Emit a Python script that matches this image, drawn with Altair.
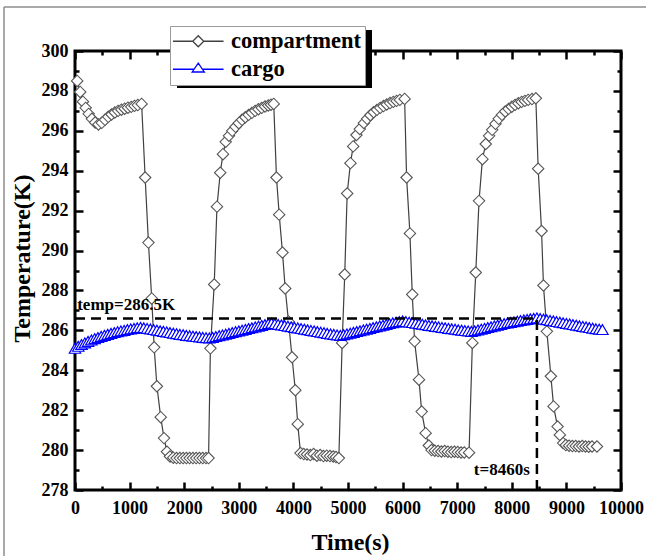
import altair as alt
import pandas as pd

# ---------------- data ----------------
compartment_time = [
    40, 95, 145, 195, 250, 310, 370, 430, 490, 550, 610, 670, 730, 790, 850, 910, 970, 1030, 1090, 1150, 1220,
    1285, 1345, 1405, 1450, 1500, 1570, 1630, 1685, 1740, 1800, 1860, 1920, 1980, 2040, 2100, 2160, 2220, 2280, 2340, 2400, 2446,
    2480, 2550, 2600, 2660, 2710, 2760, 2820, 2880, 2940, 3000, 3060, 3120, 3180, 3240, 3300, 3360, 3420, 3480, 3540, 3590, 3640,
    3690, 3740, 3800, 3850, 3910, 3975, 4035, 4080, 4130, 4190, 4250, 4310, 4370, 4430, 4490, 4550, 4610, 4670, 4730, 4780, 4832,
    4893, 4940, 4985, 5045, 5095, 5155, 5215, 5290, 5350, 5410, 5470, 5530, 5590, 5650, 5710, 5770, 5830, 5890, 5950, 6037,
    6073, 6134, 6177, 6220, 6300, 6349, 6422, 6480, 6530, 6590, 6650, 6710, 6770, 6830, 6890, 6950, 7010, 7070, 7130, 7217,
    7278, 7340, 7400, 7462, 7523, 7584, 7640, 7700, 7760, 7820, 7880, 7940, 8000, 8060, 8120, 8180, 8240, 8300, 8370, 8440,
    8483, 8545, 8580, 8642, 8716, 8765, 8838, 8880, 8940, 8990, 9050, 9110, 9170, 9230, 9290, 9350, 9410, 9470, 9560,
]
compartment_temp = [
    298.5, 297.95, 297.46, 297.15, 296.85, 296.6, 296.42, 296.32, 296.4, 296.55, 296.7, 296.82, 296.92, 297.0, 297.06, 297.11, 297.16, 297.2, 297.25, 297.29, 297.35,
    293.66, 290.4, 287.6, 285.15, 283.2, 281.65, 280.6, 279.92, 279.68, 279.62, 279.6, 279.6, 279.6, 279.6, 279.6, 279.6, 279.6, 279.6, 279.6, 279.6, 279.6,
    285.1, 288.3, 292.2, 293.9, 294.83, 295.45, 295.75, 296.0, 296.2, 296.38, 296.55, 296.68, 296.8, 296.9, 297.0, 297.08, 297.15, 297.22, 297.27, 297.31, 297.35,
    293.66, 291.8, 289.9, 288.1, 286.45, 284.65, 283.0, 281.3, 279.85, 279.8, 279.78, 279.75, 279.8, 279.72, 279.75, 279.7, 279.72, 279.7, 279.68, 279.65, 279.6,
    285.37, 288.8, 292.86, 294.38, 295.22, 295.79, 296.09, 296.39, 296.6, 296.78, 296.93, 297.05, 297.15, 297.24, 297.32, 297.39, 297.45, 297.5, 297.55, 297.6,
    293.66, 290.86, 287.8, 285.45, 283.53, 281.93, 280.85, 280.23, 280.0, 279.97, 279.95, 279.93, 279.95, 279.92, 279.9, 279.92, 279.9, 279.88, 279.88, 279.87,
    285.37, 288.9, 292.49, 294.58, 295.34, 295.75, 296.05, 296.35, 296.6, 296.8, 296.97, 297.1, 297.21, 297.3, 297.38, 297.45, 297.5, 297.55, 297.59, 297.63,
    294.1, 290.98, 288.25, 285.95, 283.7, 282.19, 281.18, 280.76, 280.35, 280.25, 280.22, 280.2, 280.2, 280.18, 280.2, 280.18, 280.17, 280.18, 280.18,
]

cargo_time = [
    0, 60, 120, 180, 240, 300, 360, 420, 480, 540, 600, 660, 720, 780, 840, 900, 960, 1020, 1080, 1140, 1200,
    1260, 1320, 1380, 1440, 1500, 1560, 1620, 1680, 1740, 1800, 1860, 1920, 1980, 2040, 2100, 2160, 2220, 2280, 2340, 2400, 2460,
    2520, 2580, 2640, 2700, 2760, 2820, 2880, 2940, 3000, 3060, 3120, 3180, 3240, 3300, 3360, 3420, 3480, 3540, 3600,
    3660, 3720, 3780, 3840, 3900, 3960, 4020, 4080, 4140, 4200, 4260, 4320, 4380, 4440, 4500, 4560, 4620, 4680, 4740, 4800, 4860,
    4920, 4980, 5040, 5100, 5160, 5220, 5280, 5340, 5400, 5460, 5520, 5580, 5640, 5700, 5760, 5820, 5880, 5940, 6000,
    6060, 6120, 6180, 6240, 6300, 6360, 6420, 6480, 6540, 6600, 6660, 6720, 6780, 6840, 6900, 6960, 7020, 7080, 7140, 7200, 7260,
    7320, 7380, 7440, 7500, 7560, 7620, 7680, 7740, 7800, 7860, 7920, 7980, 8040, 8100, 8160, 8220, 8280, 8340, 8400, 8460,
    8520, 8580, 8640, 8700, 8760, 8820, 8880, 8940, 9000, 9060, 9120, 9180, 9240, 9300, 9360, 9420, 9480, 9540, 9600, 9660,
]
cargo_temp = [
    285.10, 285.20, 285.29, 285.37, 285.45, 285.52, 285.58, 285.64, 285.70, 285.75, 285.80, 285.85, 285.89, 285.93, 285.97, 286.00, 286.04, 286.07, 286.10, 286.13, 286.15,
    286.13, 286.10, 286.07, 286.04, 286.01, 285.98, 285.95, 285.92, 285.89, 285.86, 285.83, 285.80, 285.78, 285.75, 285.73, 285.71, 285.69, 285.67, 285.65, 285.63, 285.62,
    285.65, 285.69, 285.73, 285.77, 285.81, 285.85, 285.89, 285.93, 285.97, 286.01, 286.05, 286.09, 286.13, 286.17, 286.21, 286.25, 286.29, 286.33, 286.36,
    286.33, 286.30, 286.27, 286.24, 286.21, 286.18, 286.15, 286.12, 286.09, 286.06, 286.03, 286.00, 285.97, 285.94, 285.91, 285.88, 285.85, 285.82, 285.80, 285.77, 285.75,
    285.78, 285.82, 285.86, 285.90, 285.94, 285.98, 286.02, 286.06, 286.10, 286.14, 286.18, 286.22, 286.26, 286.30, 286.34, 286.38, 286.41, 286.44, 286.47,
    286.44, 286.41, 286.39, 286.36, 286.33, 286.31, 286.28, 286.25, 286.23, 286.20, 286.18, 286.15, 286.13, 286.10, 286.08, 286.06, 286.03, 286.01, 285.99, 285.97, 285.95,
    285.98, 286.02, 286.06, 286.10, 286.14, 286.18, 286.22, 286.26, 286.30, 286.34, 286.37, 286.40, 286.43, 286.46, 286.49, 286.52, 286.55, 286.58, 286.60, 286.62,
    286.59, 286.56, 286.53, 286.50, 286.47, 286.44, 286.41, 286.38, 286.35, 286.32, 286.29, 286.26, 286.23, 286.20, 286.17, 286.14, 286.11, 286.08, 286.06, 286.04,
]

series_names = ["compartment", "cargo"]
x_tick_values = [0, 500, 1000, 1500, 2000, 2500, 3000, 3500, 4000, 4500, 5000, 5500, 6000,
                 6500, 7000, 7500, 8000, 8500, 9000, 9500, 10000]
x_label_values = [0, 1000, 2000, 3000, 4000, 5000, 6000, 7000, 8000, 9000, 10000]
y_tick_values = [278, 279, 280, 281, 282, 283, 284, 285, 286, 287, 288, 289, 290,
                 291, 292, 293, 294, 295, 296, 297, 298, 299, 300]
y_label_values = [278, 280, 282, 284, 286, 288, 290, 292, 294, 296, 298, 300]

threshold_time = 8460
threshold_temp = 286.6
annotation_text = ["temp=286.5K", "t=8460s"]
annotation_time = [40, 8330]
annotation_temp = [287.25, 279.0]

# ---------------- chart ----------------
W, H = 546, 439
FONT = "Liberation Serif"
COMP_COLOR = "#404040"
CARGO_COLOR = "#0000ff"

comp_df = pd.DataFrame({"t": compartment_time, "T": compartment_temp})
cargo_df = pd.DataFrame({"t": cargo_time, "T": cargo_temp})
legend_df = pd.DataFrame({"series": series_names, "t": [-2000, -2000], "T": [290, 290]})
hline_df = pd.DataFrame({"t": [0], "t2": [threshold_time], "T": [threshold_temp]})
vline_df = pd.DataFrame({"t": [threshold_time], "T": [278], "T2": [threshold_temp]})
ann_left = pd.DataFrame({"t": [annotation_time[0]], "T": [annotation_temp[0]], "label": [annotation_text[0]]})
ann_right = pd.DataFrame({"t": [annotation_time[1]], "T": [annotation_temp[1]], "label": [annotation_text[1]]})
one_row = pd.DataFrame({"k": [0]})

xscale = alt.Scale(domain=[0, 10000], nice=False, zero=False)
yscale = alt.Scale(domain=[278, 300], nice=False, zero=False)

lab = dict(labelFont=FONT, labelFontSize=18, labelFontWeight="bold", labelColor="black",
           titleFont=FONT, titleFontSize=24, titleFontWeight="bold", titleColor="black")

x_lab_axis = alt.Axis(orient="bottom", values=x_label_values, format="d", ticks=False, domain=False,
                      grid=False, labelPadding=9, labelFlush=False, labelOverlap=False,
                      title="Time(s)", titleX=275, titleY=52, titleBaseline="middle", titleAlign="center", **lab)
y_lab_axis = alt.Axis(orient="left", values=y_label_values, format="d", ticks=False, domain=False,
                      grid=False, labelPadding=7, labelFlush=False, labelOverlap=False,
                      title="Temperature(K)", titleX=-53, titleY=207, titleAngle=-90,
                      titleBaseline="middle", titleAlign="center", **lab)

xtick_size = {"condition": {"test": "datum.value % 1000 === 0", "value": 8}, "value": 4}
ytick_size = {"condition": {"test": "datum.value % 2 === 0", "value": 8}, "value": 4}
tk = dict(labels=False, domain=False, grid=False, ticks=True, tickWidth=2.5, tickColor="black", title=None)

x_tick_bottom = alt.Axis(orient="top", offset=-H, values=x_tick_values, tickSize=xtick_size, **tk)
x_tick_top = alt.Axis(orient="bottom", offset=-H, values=x_tick_values, tickSize=xtick_size, **tk)
y_tick_left = alt.Axis(orient="right", offset=-W, values=y_tick_values, tickSize=ytick_size, **tk)
y_tick_right = alt.Axis(orient="left", offset=-W, values=y_tick_values, tickSize=ytick_size, **tk)

# decorations: outer figure frame and legend shadow
frame_left = alt.Chart(one_row).mark_rule(color="#8c8c8c", strokeWidth=1.5).encode(
    x=alt.value(-71), y=alt.value(-44), y2=alt.value(H + 66))
frame_top = alt.Chart(one_row).mark_rule(color="#8c8c8c", strokeWidth=1.5).encode(
    x=alt.value(-71), x2=alt.value(W + 25), y=alt.value(-44))
shadow = alt.Chart(one_row).mark_rect(color="black").encode(
    x=alt.value(102), x2=alt.value(297), y=alt.value(-21), y2=alt.value(37))

comp_line = alt.Chart(comp_df).mark_line(color=COMP_COLOR, strokeWidth=1.2).encode(
    x=alt.X("t:Q", scale=xscale, axis=x_lab_axis),
    y=alt.Y("T:Q", scale=yscale, axis=y_lab_axis))
comp_pts = alt.Chart(comp_df).mark_point(shape="diamond", filled=True, fill="white", stroke="#555555",
                                         strokeWidth=1.1, size=130, opacity=1).encode(
    x=alt.X("t:Q", scale=xscale, axis=x_tick_bottom),
    y=alt.Y("T:Q", scale=yscale, axis=y_tick_left))
cargo_line = alt.Chart(cargo_df).mark_line(color=CARGO_COLOR, strokeWidth=1.5).encode(
    x=alt.X("t:Q", scale=xscale, axis=x_tick_top),
    y=alt.Y("T:Q", scale=yscale, axis=y_tick_right))
cargo_pts = alt.Chart(cargo_df).mark_point(shape="triangle-up", filled=True, fill="white", stroke=CARGO_COLOR,
                                           strokeWidth=1.2, size=130, opacity=1).encode(
    x=alt.X("t:Q", scale=xscale, axis=None),
    y=alt.Y("T:Q", scale=yscale, axis=None))

comp_path = "M-4.6,0L-1,0M1,0L4.6,0M0,-1L1,0L0,1L-1,0Z"
cargo_path = "M-4.6,0L-0.76,0M0.76,0L4.6,0M0,-1.1L1.1,0.5L-1.1,0.5Z"
leg = alt.Legend(orient="none", legendX=95, legendY=-25, title=None, padding=4,
                 strokeColor="#9a9a9a", fillColor="white", cornerRadius=0,
                 labelFont=FONT, labelFontSize=22.5, labelFontWeight="bold", labelColor="black",
                 symbolSize=121, symbolStrokeWidth=1.3, symbolOffset=13, labelOffset=21.5, rowPadding=5)
legend_layer = alt.Chart(legend_df).mark_point(filled=False, opacity=1, clip=True, size=121).encode(
    x=alt.X("t:Q", scale=xscale, axis=None),
    y=alt.Y("T:Q", scale=yscale, axis=None),
    color=alt.Color("series:N", scale=alt.Scale(domain=series_names, range=[COMP_COLOR, CARGO_COLOR]), legend=leg),
    shape=alt.Shape("series:N", scale=alt.Scale(domain=series_names, range=[comp_path, cargo_path]), legend=leg))

hline = alt.Chart(hline_df).mark_rule(color="black", strokeWidth=2.5, strokeDash=[10, 6]).encode(
    x=alt.X("t:Q", scale=xscale, axis=None), x2="t2:Q",
    y=alt.Y("T:Q", scale=yscale, axis=None))
vline = alt.Chart(vline_df).mark_rule(color="black", strokeWidth=2.5, strokeDash=[10, 6]).encode(
    x=alt.X("t:Q", scale=xscale, axis=None),
    y=alt.Y("T:Q", scale=yscale, axis=None), y2="T2:Q")
txt_left = alt.Chart(ann_left).mark_text(font=FONT, fontSize=17, fontWeight="bold", align="left",
                                         baseline="middle", color="black").encode(
    x=alt.X("t:Q", scale=xscale, axis=None), y=alt.Y("T:Q", scale=yscale, axis=None), text="label:N")
txt_right = alt.Chart(ann_right).mark_text(font=FONT, fontSize=17, fontWeight="bold", align="right",
                                           baseline="middle", color="black").encode(
    x=alt.X("t:Q", scale=xscale, axis=None), y=alt.Y("T:Q", scale=yscale, axis=None), text="label:N")

chart = alt.layer(
    frame_left, frame_top, shadow,
    comp_line, comp_pts, cargo_line, cargo_pts, legend_layer,
    hline, vline, txt_left, txt_right,
).resolve_axis(x="independent", y="independent").properties(
    width=W, height=H,
    autosize=alt.AutoSizeParams(type="none"),
    padding={"left": 75, "top": 51, "right": 25, "bottom": 66},
    background="white",
).configure_view(stroke="black", strokeWidth=3).configure_legend(
    labelFont=FONT, labelFontSize=22.5, labelFontWeight="bold", labelColor="black"
)

chart.save("out.html", embed_options={"renderer": "svg", "actions": False})
